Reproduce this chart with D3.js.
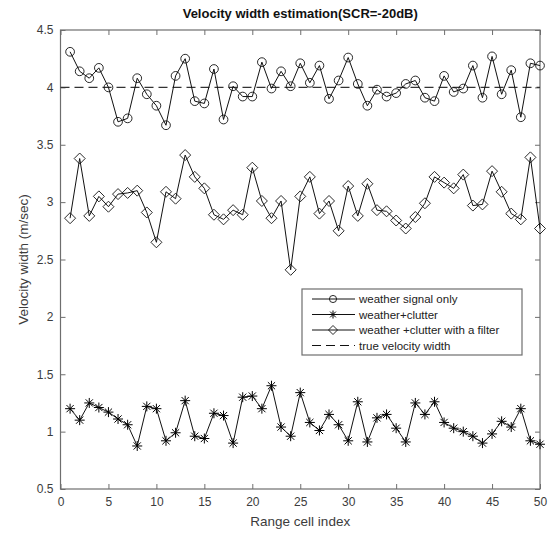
<!DOCTYPE html>
<html>
<head>
<meta charset="utf-8">
<script src="https://cdn.jsdelivr.net/npm/d3@7"></script>
<style>
  body { margin: 0; background: #fff; }
  svg { display: block; font-family: "Liberation Sans", Arial, sans-serif; }
</style>
</head>
<body>
<div id="container"></div>
<script>
//---------------------------------------------------------
// DATA

const cells = d3.range(1, 51)

const weatherOnly = [4.31, 4.14, 4.08, 4.17, 4.00, 3.70, 3.73, 4.08, 3.94, 3.84,
  3.67, 4.10, 4.25, 3.88, 3.86, 4.16, 3.72, 4.01, 3.92, 3.92,
  4.22, 3.99, 4.14, 4.01, 4.21, 4.04, 4.19, 3.90, 4.06, 4.26,
  4.03, 3.84, 3.98, 3.92, 3.95, 4.03, 4.06, 3.91, 3.88, 4.10,
  3.96, 3.99, 4.19, 3.91, 4.27, 3.94, 4.15, 3.74, 4.21, 4.19]

const weatherClutter = [1.20, 1.10, 1.25, 1.21, 1.17, 1.11, 1.06, 0.875, 1.22, 1.20,
  0.92, 0.99, 1.27, 0.96, 0.94, 1.16, 1.14, 0.90, 1.30, 1.31,
  1.20, 1.40, 1.04, 0.96, 1.34, 1.08, 1.01, 1.15, 1.06, 0.92,
  1.26, 0.91, 1.12, 1.15, 1.03, 0.91, 1.25, 1.15, 1.26, 1.08,
  1.03, 1.00, 0.96, 0.90, 0.98, 1.09, 1.04, 1.20, 0.92, 0.89]

const weatherFiltered = [2.86, 3.38, 2.88, 3.05, 2.96, 3.07, 3.08, 3.10, 2.91, 2.65,
  3.09, 3.03, 3.41, 3.22, 3.12, 2.89, 2.85, 2.93, 2.89, 3.30,
  3.01, 2.86, 3.01, 2.41, 3.05, 3.22, 2.90, 3.01, 2.75, 3.14,
  2.88, 3.16, 2.93, 2.92, 2.84, 2.77, 2.87, 2.99, 3.22, 3.17,
  3.12, 3.24, 2.97, 2.98, 3.27, 3.09, 2.90, 2.85, 3.39, 2.77]

const trueWidth = 4
const xTicks = d3.range(0, 51, 5)
const yTicks = d3.range(0.5, 4.51, 0.5)

const legendLabels = ['weather signal only', 'weather+clutter',
  'weather +clutter with a filter', 'true velocity width']

//---------------------------------------------------------
// SETUP

const width = 550
const height = 535
const margin = {top: 30, right: 10, bottom: 46, left: 60.5}
const axisColor = '#6e6e6e'
const textColor = '#3c3c3c'

const svg = d3.select('#container').append('svg')
  .attr('width', width)
  .attr('height', height)

const x = d3.scaleLinear().domain([0, 50]).range([margin.left, width - margin.right])
const y = d3.scaleLinear().domain([0.5, 4.5]).range([height - margin.bottom, margin.top])

//---------------------------------------------------------
// AXES

const tickLen = 5

function styleAxis(g, labels) {
  g.select('.domain').remove()
  g.selectAll('.tick line').attr('stroke', axisColor)
  g.selectAll('.tick text')
    .attr('fill', textColor)
    .style('font-size', '12px')
    .style('font-family', '"Liberation Sans", Arial, sans-serif')
  if (!labels) g.selectAll('.tick text').remove()
}

svg.append('g')
  .attr('transform', `translate(0,${y(0.5)})`)
  .call(d3.axisBottom(x).tickValues(xTicks).tickSize(-tickLen).tickPadding(8).tickFormat(d3.format('d')))
  .call(g => styleAxis(g, true))

svg.append('g')
  .attr('transform', `translate(0,${y(4.5)})`)
  .call(d3.axisTop(x).tickValues(xTicks).tickSize(-tickLen))
  .call(g => styleAxis(g, false))

svg.append('g')
  .attr('transform', `translate(${x(0)},0)`)
  .call(d3.axisLeft(y).tickValues(yTicks).tickSize(-tickLen).tickPadding(7).tickFormat(d => d3.format('')(+d.toFixed(1))))
  .call(g => styleAxis(g, true))

svg.append('g')
  .attr('transform', `translate(${x(50)},0)`)
  .call(d3.axisRight(y).tickValues(yTicks).tickSize(-tickLen))
  .call(g => styleAxis(g, false))

svg.append('rect')
  .attr('x', x(0))
  .attr('y', y(4.5))
  .attr('width', x(50) - x(0))
  .attr('height', y(0.5) - y(4.5))
  .attr('fill', 'none')
  .attr('stroke', axisColor)
  .attr('stroke-width', 1.2)

//---------------------------------------------------------
// LABELS

svg.append('text')
  .attr('x', (x(0) + x(50)) / 2)
  .attr('y', 18)
  .attr('text-anchor', 'middle')
  .style('font-size', '13px')
  .style('font-weight', 'bold')
  .attr('fill', '#111')
  .text('Velocity width estimation(SCR=-20dB)')

svg.append('text')
  .attr('x', (x(0) + x(50)) / 2)
  .attr('y', 526)
  .attr('text-anchor', 'middle')
  .style('font-size', '13.5px')
  .attr('fill', textColor)
  .text('Range cell index')

svg.append('text')
  .attr('transform', `translate(28,${(y(0.5) + y(4.5)) / 2}) rotate(-90)`)
  .attr('text-anchor', 'middle')
  .style('font-size', '13.5px')
  .attr('fill', textColor)
  .text('Velocity width (m/sec)')

//---------------------------------------------------------
// MARKERS

const circleMarker = d3.symbol().type(d3.symbolCircle).size(60)
const diamondPath = s => `M0,${-s}L${s},0L0,${s}L${-s},0Z`
const starPath = s => {
  const d = s * 0.72
  return `M0,${-s}V${s}M${-s},0H${s}M${-d},${-d}L${d},${d}M${-d},${d}L${d},${-d}`
}

const markers = {
  circle: g => g.append('path').attr('d', circleMarker()).attr('fill', 'none').attr('stroke', '#111').attr('stroke-width', 0.9),
  diamond: g => g.append('path').attr('d', diamondPath(5.5)).attr('fill', 'none').attr('stroke', '#111').attr('stroke-width', 0.9),
  star: g => g.append('path').attr('d', starPath(5)).attr('fill', 'none').attr('stroke', '#000').attr('stroke-width', 1)
}

//---------------------------------------------------------
// SERIES

const line = d3.line().x(d => x(d[0])).y(d => y(d[1]))

const series = [
  {values: weatherOnly, marker: 'circle'},
  {values: weatherClutter, marker: 'star'},
  {values: weatherFiltered, marker: 'diamond'}
]

svg.append('line')
  .attr('x1', x(0))
  .attr('x2', x(50))
  .attr('y1', y(trueWidth))
  .attr('y2', y(trueWidth))
  .attr('stroke', '#333')
  .attr('stroke-width', 1.2)
  .attr('stroke-dasharray', '9,5')

series.forEach(s => {
  const pts = cells.map((c, i) => [c, s.values[i]])
  svg.append('path')
    .datum(pts)
    .attr('d', line)
    .attr('fill', 'none')
    .attr('stroke', '#111')
    .attr('stroke-width', 1)

  svg.append('g').selectAll('g')
    .data(pts)
    .join('g')
    .attr('transform', d => `translate(${x(d[0])},${y(d[1])})`)
    .each(function () { markers[s.marker](d3.select(this)) })
})

//---------------------------------------------------------
// LEGEND

const legend = svg.append('g').attr('transform', 'translate(302,289)')

legend.append('rect')
  .attr('width', 220)
  .attr('height', 66)
  .attr('fill', '#fff')
  .attr('stroke', axisColor)
  .attr('stroke-width', 1.2)

const legendMarkers = ['circle', 'star', 'diamond', null]

legendLabels.forEach((label, i) => {
  const row = legend.append('g').attr('transform', `translate(0,${10 + i * 15.5})`)
  row.append('line')
    .attr('x1', 10).attr('x2', 53)
    .attr('stroke', '#111')
    .attr('stroke-width', legendMarkers[i] ? 1 : 1.2)
    .attr('stroke-dasharray', legendMarkers[i] ? null : '9,5')
  if (legendMarkers[i]) {
    const m = row.append('g').attr('transform', 'translate(31,0)')
    markers[legendMarkers[i]](m)
    if (legendMarkers[i] === 'circle') m.select('path').attr('d', d3.symbol().type(d3.symbolCircle).size(40)())
    if (legendMarkers[i] === 'diamond') m.select('path').attr('d', diamondPath(4.5))
    if (legendMarkers[i] === 'star') m.select('path').attr('d', starPath(4))
  }
  row.append('text')
    .attr('x', 57)
    .attr('y', 4)
    .style('font-size', '11.5px')
    .attr('fill', '#222')
    .text(label)
})
</script>
</body>
</html>
